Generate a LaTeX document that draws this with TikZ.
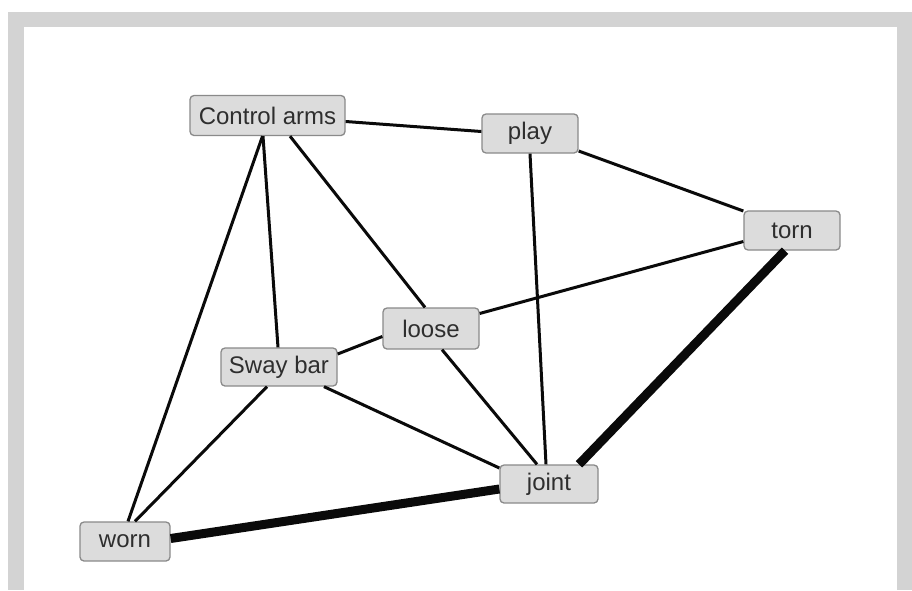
\documentclass[tikz,border=0pt]{standalone}
\usepackage{fontspec}
\setmainfont{Liberation Sans}
\usetikzlibrary{calc}
\definecolor{framegray}{HTML}{D3D3D3}
\definecolor{boxfill}{HTML}{DCDCDC}
\definecolor{boxline}{HTML}{8A8A8A}
\definecolor{txt}{HTML}{2E2E2E}
\definecolor{edgecol}{HTML}{0A0A0A}
\begin{document}
\begin{tikzpicture}[x=1pt,y=-1pt,
  term/.style={draw=boxline, line width=1.3pt, fill=boxfill, rounded corners=4pt,
    text=txt, font=\fontsize{24}{28}\selectfont, inner sep=0pt, anchor=center},
  thinedge/.style={draw=edgecol, line width=3pt},
  thickedge/.style={draw=edgecol, line width=9pt}]
\useasboundingbox (0,0) rectangle (912,590);
\fill[framegray] (8,12) rectangle (912,590);
\fill[white] (24,27) rectangle (897,590);
% nodes
\node[term, minimum width=155pt, minimum height=40pt] (ca) at (267.5,115.5) {Control arms};
\node[term, minimum width=96pt, minimum height=39pt] (play) at (530,133.5) {play};
\node[term, minimum width=96pt, minimum height=39pt] (torn) at (792,230.5) {torn};
\node[term, minimum width=96pt, minimum height=41pt] (loose) at (431,328.5) {loose};
\node[term, minimum width=116pt, minimum height=38pt] (sway) at (279,367) {Sway bar};
\node[term, minimum width=98pt, minimum height=38pt] (joint) at (549,484) {joint};
\node[term, minimum width=90pt, minimum height=39pt] (worn) at (125,541.5) {worn};
% edges
\draw[thinedge] ($(ca.east)+(0,6)$) -- ($(play.west)+(0,-2)$);
\draw[thinedge] ($(ca.south)+(-4.5,0)$) -- ($(sway.north)+(-1,0)$);
\draw[thinedge] ($(ca.south)+(-5,0)$) -- ($(worn.north)+(3,0)$);
\draw[thinedge] ($(ca.south)+(22.5,0)$) -- ($(loose.north)+(-6,0)$);
\draw[thinedge] ($(loose.south)+(11,0)$) -- ($(joint.north)+(-12,0)$);
\draw[thinedge] (play.south) -- ($(joint.north)+(-3,0)$);
\draw[thinedge] ($(play.east)+(0,17.5)$) -- ($(torn.west)+(0,-19.5)$);
\draw[thinedge] ($(torn.west)+(0,11)$) -- ($(loose.east)+(0,-15)$);
\draw[thickedge] ($(torn.south)+(-7,0)$) -- ($(joint.north)+(30,0)$);
\draw[thinedge] ($(loose.west)+(0,8)$) -- ($(sway.east)+(0,-13)$);
\draw[thinedge] ($(sway.south)+(45,0)$) -- ($(joint.west)+(0,-16)$);
\draw[thinedge] ($(sway.south)+(-12,0)$) -- ($(worn.north)+(10,0)$);
\draw[thickedge] ($(worn.east)+(0,-3)$) -- ($(joint.west)+(0,5)$);
\end{tikzpicture}
\end{document}
